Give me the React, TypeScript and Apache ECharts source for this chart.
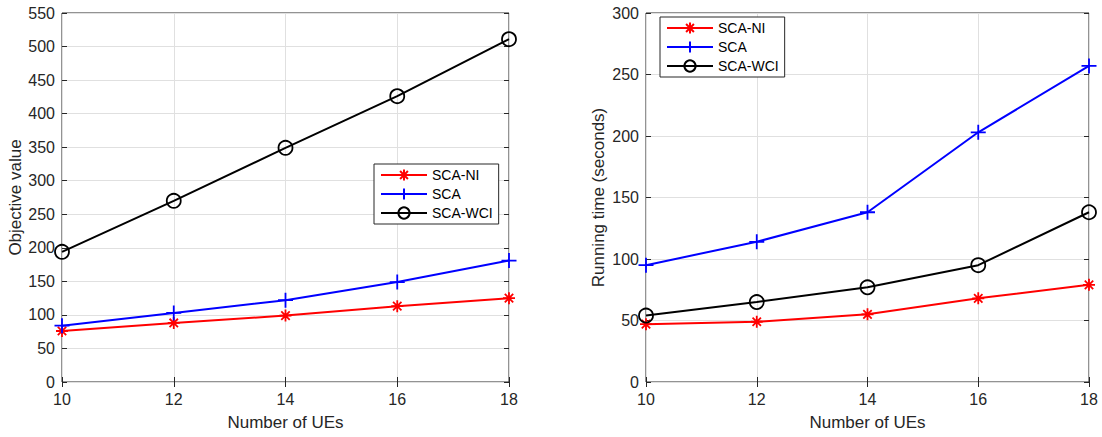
import React, { useEffect, useRef } from "react";
import * as echarts from "echarts";

const ues = [10, 12, 14, 16, 18];
const objNI = [76, 88, 99, 113, 125];
const objSCA = [84, 103, 122, 149, 181];
const objWCI = [194, 270, 349, 426, 511];
const timeNI = [47, 49, 55, 68, 79];
const timeSCA = [95, 114, 138, 203, 257];
const timeWCI = [54, 65, 77, 95, 138];
const seriesNames = ["SCA-NI", "SCA", "SCA-WCI"];

const FONT = "Liberation Sans, Arial, Helvetica, sans-serif";
const TXT = "#262626";
const ASTER = "path://M0,-1L0,1M-1,0L1,0M-0.7,-0.7L0.7,0.7M-0.7,0.7L0.7,-0.7";
const PLUS = "path://M0,-1L0,1M-1,0L1,0";

const pairs = (ys: number[]) => ues.map((x, i) => [x, ys[i]]);

function buildSeries(grid: number, ni: number[], sca: number[], wci: number[]) {
  const base = (name: string, data: number[], color: string, symbol: string, size: number, fill: string) => ({
    name,
    type: "line",
    xAxisIndex: grid * 2,
    yAxisIndex: grid * 2,
    data: pairs(data),
    symbol,
    symbolSize: size,
    lineStyle: { color, width: 2 },
    itemStyle: { color: fill, borderColor: color, borderWidth: 1.8 },
    z: 3,
  });
  return [
    base(seriesNames[0], ni, "#ff0000", ASTER, 12, "#ff0000"),
    base(seriesNames[1], sca, "#0000ff", PLUS, 15, "#0000ff"),
    base(seriesNames[2], wci, "#000000", "circle", 14, "rgba(0,0,0,0)"),
  ];
}

function axesFor(grid: number, ymax: number, yname: string, ygap: number) {
  const tick = { show: true, inside: true, length: 5, lineStyle: { color: TXT, width: 1 } };
  const xs = [
    {
      type: "value",
      gridIndex: grid,
      min: 10,
      max: 18,
      interval: 2,
      position: "bottom",
      name: "Number of UEs",
      nameLocation: "middle",
      nameGap: 32,
      nameTextStyle: { color: TXT, fontSize: 17, fontFamily: FONT },
      axisLine: { show: false },
      axisTick: tick,
      axisLabel: { color: TXT, fontSize: 16, fontFamily: FONT, margin: 9 },
      splitLine: { show: true, lineStyle: { color: "#e0e0e0", width: 1 } },
    },
    {
      type: "value",
      gridIndex: grid,
      min: 10,
      max: 18,
      interval: 2,
      position: "top",
      axisLine: { show: false },
      axisTick: tick,
      axisLabel: { show: false },
      splitLine: { show: false },
    },
  ];
  const ys = [
    {
      type: "value",
      gridIndex: grid,
      min: 0,
      max: ymax,
      interval: 50,
      position: "left",
      name: yname,
      nameLocation: "middle",
      nameGap: ygap,
      nameTextStyle: { color: TXT, fontSize: 17, fontFamily: FONT },
      axisLine: { show: false },
      axisTick: tick,
      axisLabel: { color: TXT, fontSize: 16, fontFamily: FONT, margin: 7 },
      splitLine: { show: true, lineStyle: { color: "#e0e0e0", width: 1 } },
    },
    {
      type: "value",
      gridIndex: grid,
      min: 0,
      max: ymax,
      interval: 50,
      position: "right",
      axisLine: { show: false },
      axisTick: tick,
      axisLabel: { show: false },
      splitLine: { show: false },
    },
  ];
  return { xs, ys };
}

export default function App() {
  const ref = useRef<HTMLDivElement>(null);
  useEffect(() => {
    document.body.style.margin = "0";
    if (!ref.current) return;
    const chart = echarts.init(ref.current, undefined, { renderer: "svg" });
    const a = axesFor(0, 550, "Objective value", 37);
    const b = axesFor(1, 300, "Running time (seconds)", 39);
    const legendCommon = {
      orient: "vertical",
      data: seriesNames,
      itemWidth: 46,
      itemHeight: 14,
      itemGap: 5,
      padding: [4, 6, 4, 6],
      backgroundColor: "#ffffff",
      borderColor: TXT,
      borderWidth: 1,
      borderRadius: 0,
      textStyle: { color: "#000", fontSize: 14, fontFamily: FONT },
      selectedMode: false,
    };
    chart.setOption({
      animation: false,
      backgroundColor: "#ffffff",
      grid: [
        { left: 62, top: 13, width: 447, height: 369, show: true, borderColor: TXT, borderWidth: 1, backgroundColor: "transparent" },
        { left: 646, top: 13, width: 443, height: 369, show: true, borderColor: TXT, borderWidth: 1, backgroundColor: "transparent" },
      ],
      xAxis: [...a.xs, ...b.xs],
      yAxis: [...a.ys, ...b.ys],
      legend: [
        { ...legendCommon, left: 374, top: 164 },
        { ...legendCommon, left: 660, top: 17 },
      ],
      series: [...buildSeries(0, objNI, objSCA, objWCI), ...buildSeries(1, timeNI, timeSCA, timeWCI)],
    });
    return () => chart.dispose();
  }, []);
  return <div ref={ref} style={{ width: 1102, height: 437 }} />;
}
